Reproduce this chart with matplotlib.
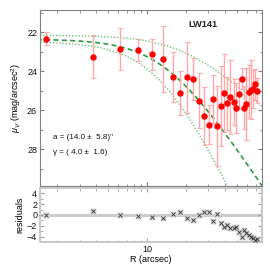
import numpy as np
import matplotlib
matplotlib.use("Agg")
import matplotlib.pyplot as plt
from matplotlib.ticker import LogLocator, NullFormatter, FixedLocator, MultipleLocator, FuncFormatter

plt.rcParams['font.family'] = ['Liberation Sans', 'DejaVu Sans']
plt.rcParams['mathtext.fontset'] = 'custom'
plt.rcParams['mathtext.rm'] = 'Liberation Sans'
plt.rcParams['mathtext.it'] = 'Liberation Sans:italic'

# data
radius = [1.64, 3.79, 6.18, 8.56, 11.0, 13.4, 15.8, 18.2, 20.6, 22.9,
          25.3, 27.8, 30.2, 32.7, 35.1, 37.5, 39.7, 42.1, 44.5, 47.0,
          49.2, 51.8, 54.2, 56.7, 59.1, 61.4, 63.7, 66.0, 68.7, 71.2]
mu = [22.32, 23.26, 22.86, 22.92, 23.13, 23.36, 24.29, 25.12, 24.31, 24.41,
      25.51, 26.30, 26.75, 25.41, 26.81, 25.80, 25.13, 25.64, 25.32, 25.58,
      25.89, 25.15, 24.38, 25.88, 25.68, 25.05, 24.95, 24.91, 24.67, 25.00]
mu_err = [0.34, 1.1, 1.08, 0.57, 0.79, 1.69, 1.3, 1.15, 1.84, 1.07,
          1.42, 1.5, 1.0, 1.23, 2.05, 2.05, 2.0, 1.37, 1.9, 1.18,
          1.27, 0.8, 0.55, 1.1, 1.83, 1.37, 1.52, 1.0, 0.8, 0.64]
residuals = [-0.1, 0.7, 0.05, -0.18, -0.31, -0.5, 0.13, 0.5, -0.6, -0.92,
             0.0, 0.5, 0.6, -1.05, 0.18, -1.5, -2.15, -1.84, -2.45, -2.45,
             -2.15, -3.19, -4.18, -2.76, -3.26, -3.68, -4.0, -4.29, -4.6, -4.47]

# model curves (mu0, a, gamma)
fit_best = (22.35, 14.0, 4.0)
fit_upper = (22.15, 19.8, 2.4)
fit_lower = (22.47, 13.0, 5.6)

def model(r, p):
    mu0, a, g = p
    return mu0 + 1.25 * g * np.log10(1 + (r / a) ** 2)

fig = plt.figure(figsize=(2.7, 2.7), dpi=100)
ax = fig.add_axes([0.148, 0.311, 0.822, 0.652])
axr = fig.add_axes([0.148, 0.104, 0.822, 0.2])

rr = np.geomspace(1.4, 82, 300)
green_d = '#2e9a3e'
green_l = '#6cc47a'
ax.plot(rr, model(rr, fit_upper), linestyle=(0, (1, 1.3)), color=green_l, lw=1.0)
ax.plot(rr, model(rr, fit_lower), linestyle=(0, (1, 1.3)), color=green_l, lw=1.0)
ax.plot(rr, model(rr, fit_best), linestyle=(0, (3, 2)), color=green_d, lw=1.2)

ax.errorbar(radius, mu, yerr=mu_err, fmt='o', color='red', ms=3.6, mec='red',
            ecolor='#ffa8a8', elinewidth=1.0, capsize=1.8, capthick=0.8, zorder=3)

ax.set_xscale('log')
ax.set_xlim(1.48, 78)
ax.set_ylim(29.9, 20.85)
ax.yaxis.set_major_locator(FixedLocator([22, 24, 26, 28]))
ax.yaxis.set_minor_locator(MultipleLocator(1))
ax.xaxis.set_major_locator(LogLocator(base=10))
ax.xaxis.set_minor_locator(LogLocator(base=10, subs=np.arange(2, 10)))
ax.xaxis.set_major_formatter(NullFormatter())
ax.xaxis.set_minor_formatter(NullFormatter())
ax.set_ylabel(r'$\mu_V$ (mag/arcsec$^2$)', fontsize=6.5, labelpad=3)

ax.text(0.734, 0.92, 'LW141', transform=ax.transAxes, fontsize=6.6, fontweight='bold',
        ha='center', va='center', color='#222222')
ax.text(0.06, 0.273, 'a = (14.0 \u00b1  5.8)"', transform=ax.transAxes, fontsize=5.8,
        ha='left', va='center', color='#111111')
ax.text(0.06, 0.193, '\u03b3 = ( 4.0 \u00b1  1.6)', transform=ax.transAxes, fontsize=5.8,
        ha='left', va='center', color='#111111')

for s in ax.spines.values():
    s.set_color('#808080')
    s.set_linewidth(0.8)
ax.tick_params(which='both', direction='in', top=True, right=True, colors='#808080',
               labelcolor='#111111', labelsize=6.5, pad=2)
ax.tick_params(which='major', length=3)
ax.tick_params(which='minor', length=1.8)

# residuals
axr.axhline(0, color='#cccccc', lw=2.2, zorder=1)
axr.plot(radius, residuals, linestyle='none', marker='s', ms=4, mfc='#d8d8d8', mec='none', zorder=2)
axr.plot(radius, residuals, linestyle='none', marker='x', ms=2.6, mew=0.6, color='#333333', zorder=3)
axr.set_xscale('log')
axr.set_xlim(1.48, 78)
axr.set_ylim(-5, 5)
axr.yaxis.set_major_locator(FixedLocator([-4, -2, 0, 2, 4]))
axr.yaxis.set_minor_locator(MultipleLocator(1))
axr.xaxis.set_major_locator(LogLocator(base=10))
axr.xaxis.set_minor_locator(LogLocator(base=10, subs=np.arange(2, 10)))
axr.xaxis.set_major_formatter(FuncFormatter(lambda v, p: '%d' % v))
axr.xaxis.set_minor_formatter(NullFormatter())
axr.set_ylabel('residuals', fontsize=6.5, labelpad=2)
axr.set_xlabel('R (arcsec)', fontsize=6.5, labelpad=1)
for s in axr.spines.values():
    s.set_color('#c8c8c8')
    s.set_linewidth(1.4)
axr.tick_params(which='both', direction='in', top=True, right=True, colors='#a0a0a0',
                labelcolor='#111111', labelsize=6.5, pad=2)
axr.tick_params(which='major', length=3)
axr.tick_params(which='minor', length=1.8)

fig.savefig('out.png', dpi=100)
